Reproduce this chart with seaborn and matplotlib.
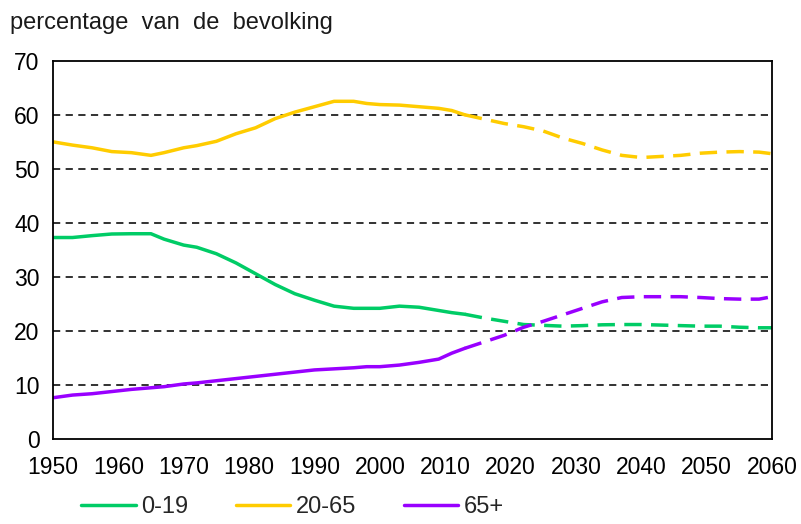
import numpy as np
import pandas as pd
import seaborn as sns
import matplotlib.pyplot as plt
from matplotlib.lines import Line2D

# observed (solid) and projected (dashed) years
years_obs = [1950, 1953, 1956, 1959, 1962, 1965, 1967, 1970, 1972, 1975, 1978, 1981,
             1984, 1987, 1990, 1993, 1996, 1998, 2000, 2003, 2006, 2009, 2011, 2013]
years_proj = [2013, 2016, 2019, 2022, 2025, 2028, 2031, 2034, 2037, 2040, 2043, 2046,
              2049, 2052, 2055, 2058, 2060]

young_obs = [37.3, 37.3, 37.65, 37.95, 38.0, 38.0, 37.0, 35.9, 35.5, 34.3, 32.6, 30.6,
             28.6, 26.9, 25.7, 24.6, 24.2, 24.2, 24.2, 24.6, 24.4, 23.8, 23.4, 23.1]
young_proj = [23.1, 22.4, 21.8, 21.2, 21.05, 20.9, 21.0, 21.15, 21.2, 21.2, 21.1, 21.0,
              20.9, 20.9, 20.7, 20.6, 20.6]

work_obs = [55.0, 54.4, 53.9, 53.2, 53.0, 52.5, 53.0, 53.9, 54.3, 55.1, 56.5, 57.6,
            59.3, 60.5, 61.5, 62.5, 62.5, 62.1, 61.9, 61.8, 61.5, 61.2, 60.8, 60.0]
work_proj = [60.0, 59.2, 58.4, 57.8, 57.0, 55.7, 54.7, 53.5, 52.5, 52.1, 52.3, 52.5,
             52.9, 53.1, 53.2, 53.1, 52.8]

old_obs = [7.65, 8.15, 8.4, 8.8, 9.2, 9.5, 9.7, 10.2, 10.4, 10.8, 11.2, 11.6,
           12.0, 12.4, 12.8, 13.0, 13.2, 13.4, 13.4, 13.7, 14.2, 14.8, 15.9, 16.8]
old_proj = [16.8, 18.0, 19.2, 20.7, 21.8, 23.0, 24.2, 25.4, 26.2, 26.35, 26.35, 26.35,
            26.2, 26.0, 25.9, 25.9, 26.35]

groups = ["0-19", "20-65", "65+"]
colors = {"0-19": "#00CC66", "20-65": "#FFCC00", "65+": "#9900FF"}

frames = []
for g, obs, proj in zip(groups, [young_obs, work_obs, old_obs], [young_proj, work_proj, old_proj]):
    frames.append(pd.DataFrame({"year": years_obs, "value": obs, "group": g, "period": "obs"}))
    frames.append(pd.DataFrame({"year": years_proj, "value": proj, "group": g, "period": "proj"}))
df = pd.concat(frames, ignore_index=True)

sns.set_style("white")
plt.rcParams["font.family"] = ["Liberation Sans", "DejaVu Sans"]

fig = plt.figure(figsize=(8.01, 5.24), dpi=100)
ax = fig.add_axes([0.066, 0.162, 0.898, 0.722])

sns.lineplot(data=df, x="year", y="value", hue="group", style="period",
             palette=colors, dashes={"obs": "", "proj": (5, 2.7)},
             linewidth=2.5, legend=False, ax=ax, estimator=None, sort=False)

ax.set_xlim(1950, 2060)
ax.set_ylim(0, 70)
ax.set_xticks(np.arange(1950, 2061, 10))
ax.set_yticks(np.arange(0, 71, 10))
ax.set_xlabel("")
ax.set_ylabel("")

for y in range(10, 70, 10):
    ax.axhline(y, color="#222222", linestyle=(0, (4, 3)), linewidth=1.3, zorder=0)

for s in ax.spines.values():
    s.set_color("black")
    s.set_linewidth(1.3)

ax.tick_params(axis="y", direction="inout", length=9, width=1.3, labelsize=16.5,
               pad=5, colors="black")
ax.tick_params(axis="x", direction="out", length=5, width=1.3, labelsize=16.5,
               pad=7, colors="black")

fig.text(0.012, 0.935, "percentage  van  de  bevolking", fontsize=17, color="#1a1a1a",
         ha="left", va="bottom")

handles = [Line2D([], [], color=colors[g], linewidth=2.5) for g in groups]
fig.legend(handles, groups, loc="lower left", bbox_to_anchor=(0.075, -0.03),
           ncol=3, frameon=False, fontsize=17, handlelength=2.3,
           handletextpad=0.25, columnspacing=2.0)

fig.savefig("out.png", dpi=100)
